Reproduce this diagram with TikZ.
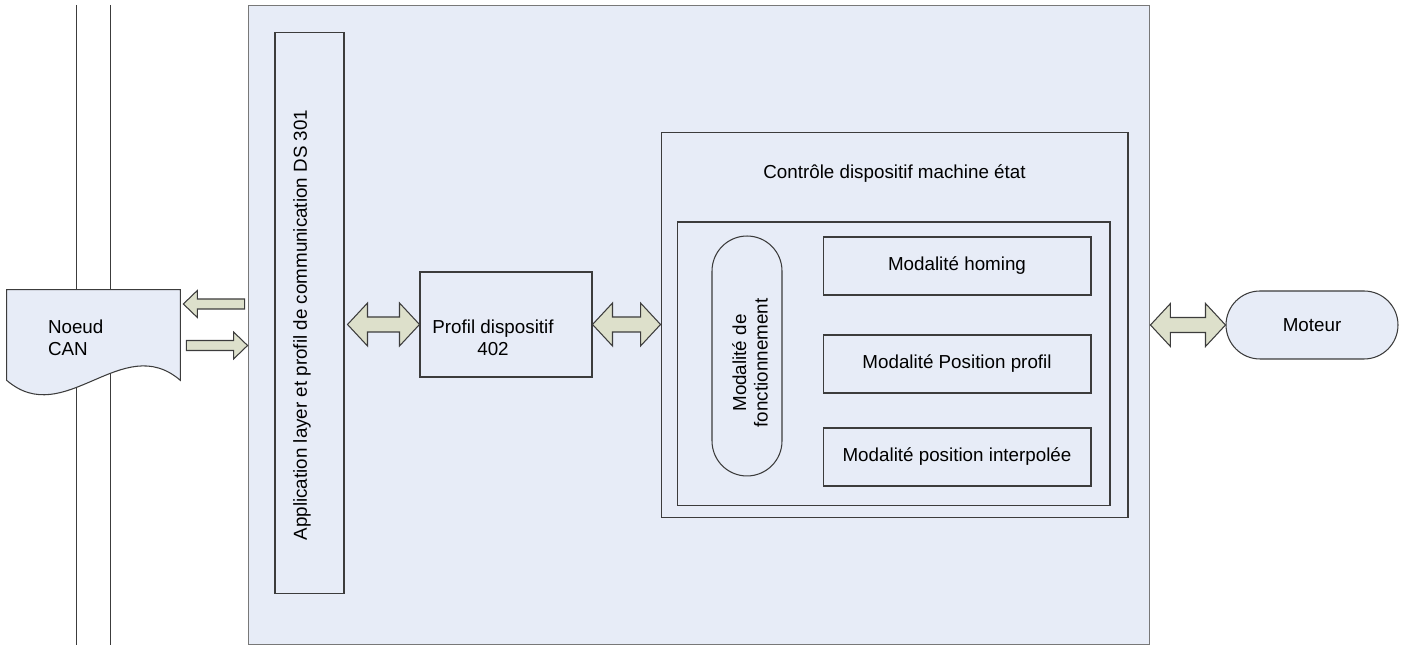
\documentclass[tikz,border=0pt]{standalone}
\usepackage{fontspec}
\setmainfont{Liberation Sans}
\usetikzlibrary{positioning,calc}

\definecolor{panelblue}{RGB}{231,236,247}
\definecolor{arrowkhaki}{RGB}{221,224,203}
\definecolor{edgegray}{RGB}{60,60,60}
\definecolor{framegray}{RGB}{120,120,120}

% fat two-headed arrow between two points on one level
\newcommand{\dblarrow}[2]{%
  \filldraw[fatarrow] let \p1=(#1), \p2=(#2),
      \p3=($(#1)!0.4cm!(#2)$), \p4=($(#2)!0.4cm!(#1)$) in
    (\x1,\y1) -- (\x3,\y1+0.43cm) -- (\x3,\y1+0.15cm) -- (\x4,\y1+0.15cm)
    -- (\x4,\y1+0.43cm) -- (\x2,\y1) -- (\x4,\y1-0.43cm) -- (\x4,\y1-0.15cm)
    -- (\x3,\y1-0.15cm) -- (\x3,\y1-0.43cm) -- cycle;}

% fat one-headed arrow, tail first, tip second
\newcommand{\onearrow}[2]{%
  \filldraw[fatarrow] let \p1=(#1), \p2=(#2),
      \p3=($(#2)!0.28cm!(#1)$) in
    (\x1,\y1+0.1cm) -- (\x3,\y1+0.1cm) -- (\x3,\y1+0.27cm) -- (\x2,\y1)
    -- (\x3,\y1-0.27cm) -- (\x3,\y1-0.1cm) -- (\x1,\y1-0.1cm) -- cycle;}

\begin{document}
\begin{tikzpicture}[
    x=0.02cm, y=0.02cm,
    font=\fontsize{10.7}{12.3}\selectfont,
    block/.style={
        rectangle,
        draw=edgegray,
        fill=panelblue,
        line width=0.6pt,
        inner sep=0pt,
        align=center
    },
    frame/.style={
        block,
        draw=framegray
    },
    modebox/.style={
        block,
        minimum width=5.36cm,
        minimum height=1.16cm
    },
    pill/.style={
        block,
        rounded corners=#1
    },
    txt/.style={
        inner sep=0pt,
        align=center
    },
    fatarrow/.style={
        draw=edgegray,
        fill=arrowkhaki,
        line width=0.6pt
    },
    busline/.style={
        draw=edgegray,
        line width=0.5pt
    }
]

    \useasboundingbox (0,0) rectangle (1408,648);

    % --- CAN bus lines ---
    \coordinate (busAtop) at (76,643);
    \coordinate (busAbot) at (76,3);
    \coordinate (busBtop) at (110,643);
    \coordinate (busBbot) at (110,3);
    \draw [busline] (busAtop) -- (busAbot);
    \draw [busline] (busBtop) -- (busBbot);

    % --- CAN node (document shape) ---
    \node [draw=none, minimum width=3.46cm, minimum height=1.8cm, inner sep=0pt] (can) at (93.5,313) {};
    \filldraw [block] (can.north west) -- (can.north east) -- (can.south east)
        .. controls +(-58,50) and +(58,-50) .. (can.south west) -- cycle;
    \node [txt, anchor=west, align=left] (canlabel) at ([xshift=0.82cm, yshift=-0.06cm]can.west) {Noeud\\CAN};

    % --- Drive system ---
    \node [frame, minimum width=18.04cm, minimum height=12.8cm] (systeme) at (699,323) {};

    \node [block, minimum width=1.38cm, minimum height=11.24cm] (app) at (309.5,335) {};
    \node [txt, rotate=90] (applabel) at (302,323)
        {Application layer et profil de communication DS 301};

    \node [block, minimum width=3.44cm, minimum height=2.1cm] (prof) at (506,323.5) {};
    \node [txt] (proflabel) at (493,310.5) {Profil dispositif\\402};

    \node [block, minimum width=9.34cm, minimum height=7.72cm] (ctrl) at (894.5,323) {};
    \node [txt, below=0.66cm of ctrl.north] (ctrllabel) {Contrôle dispositif machine état};

    \node [block, minimum width=8.66cm, minimum height=5.68cm] (inner) at (893.5,284) {};

    \node [pill=0.7cm, minimum width=1.4cm, minimum height=4.8cm] (fonct) at (747,292) {};
    \node [txt, rotate=90] (fonctlabel) at (750,285) {Modalité de\\fonctionnement};

    \node [modebox] (homing) at (957,382) {Modalité homing};
    \node [modebox] (posprof) at (957,284) {Modalité Position profil};
    \node [modebox] (interp) at (957,191) {Modalité position interpolée};

    % --- Motor ---
    \node [pill=0.68cm, minimum width=3.44cm, minimum height=1.36cm] (moteur) at (1312,323) {Moteur};

    % --- Connections ---
    \onearrow{$(systeme.west)+(-3,21)$}{$(can.east)+(3,31)$}
    \onearrow{$(can.east)+(6,-10.5)$}{$(systeme.west)+(0,-20.5)$}

    \dblarrow{$(app.east |- prof.west)+(3,0)$}{prof.west}
    \dblarrow{prof.east}{prof.east -| ctrl.west}
    \dblarrow{systeme.east |- moteur.west}{moteur.west}

\end{tikzpicture}
\end{document}
